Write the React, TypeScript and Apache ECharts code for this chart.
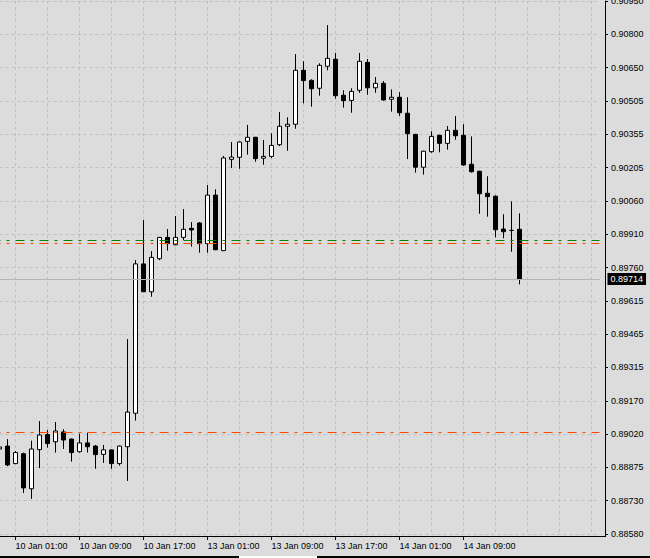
import React, { useEffect, useRef } from 'react';
import * as echarts from 'echarts';

// Hourly categories (market closed over the weekend between 10 Jan and 13 Jan)
const daySegments: [string, number, number][] = [
  ['9 Jan', 23, 23],
  ['10 Jan', 0, 23],
  ['13 Jan', 0, 23],
  ['14 Jan', 0, 23],
  ['15 Jan', 0, 2],
];
const categories: string[] = [];
for (const [d, a, b] of daySegments) {
  for (let h = a; h <= b; h++) categories.push(`${d} ${String(h).padStart(2, '0')}:00`);
}

const opens = [
  0.88958, 0.88971, 0.88893, 0.88937, 0.88781, 0.88955, 0.89022, 0.88990, 0.89034, 0.89002,
  0.88946, 0.88985, 0.88971, 0.88934, 0.88954, 0.88893, 0.88968, 0.89117, 0.89781, 0.89657,
  0.89804, 0.89899, 0.89866, 0.89899, 0.89939, 0.89963, 0.89871, 0.90087, 0.89840, 0.90246,
  0.90255, 0.90326, 0.90344, 0.90251, 0.90259, 0.90311, 0.90393, 0.90402, 0.90642, 0.90597,
  0.90562, 0.90660, 0.90691, 0.90531, 0.90508, 0.90553, 0.90677, 0.90564, 0.90584, 0.90513,
  0.90522, 0.90451, 0.90357, 0.90211, 0.90280, 0.90353, 0.90317, 0.90375, 0.90353, 0.90224,
  0.90193, 0.90095, 0.90082, 0.89936, 0.89930, 0.89935,
];
const closes = [
  0.88967, 0.88887, 0.88942, 0.88785, 0.88958, 0.89020, 0.88982, 0.89038, 0.88998, 0.88942,
  0.88985, 0.88968, 0.88933, 0.88954, 0.88893, 0.88971, 0.89122, 0.89781, 0.89657, 0.89810,
  0.89899, 0.89871, 0.89899, 0.89935, 0.89932, 0.89871, 0.90087, 0.89844, 0.90252, 0.90256,
  0.90323, 0.90344, 0.90249, 0.90259, 0.90308, 0.90393, 0.90402, 0.90642, 0.90596, 0.90560,
  0.90664, 0.90695, 0.90529, 0.90507, 0.90548, 0.90682, 0.90564, 0.90584, 0.90510, 0.90522,
  0.90453, 0.90360, 0.90211, 0.90282, 0.90348, 0.90317, 0.90375, 0.90351, 0.90221, 0.90191,
  0.90093, 0.90080, 0.89933, 0.89924, 0.89930, 0.89714,
];
const lows = [
  0.88949, 0.88882, 0.88891, 0.88762, 0.88736, 0.88873, 0.88964, 0.88942, 0.88958, 0.88902,
  0.88942, 0.88942, 0.88870, 0.88896, 0.88870, 0.88884, 0.88816, 0.89084, 0.89656, 0.89635,
  0.89798, 0.89840, 0.89864, 0.89887, 0.89858, 0.89831, 0.89831, 0.89842, 0.89838, 0.90207,
  0.90204, 0.90267, 0.90235, 0.90222, 0.90251, 0.90305, 0.90284, 0.90382, 0.90495, 0.90480,
  0.90529, 0.90642, 0.90516, 0.90476, 0.90453, 0.90542, 0.90533, 0.90542, 0.90507, 0.90458,
  0.90439, 0.90247, 0.90187, 0.90178, 0.90275, 0.90277, 0.90289, 0.90333, 0.90217, 0.90187,
  0.90004, 0.89991, 0.89899, 0.89895, 0.89835, 0.89690,
];
const highs = [
  0.88976, 0.89002, 0.88949, 0.88942, 0.88995, 0.89082, 0.89042, 0.89078, 0.89046, 0.89005,
  0.89026, 0.89030, 0.88976, 0.88976, 0.88956, 0.88973, 0.89447, 0.89798, 0.89976, 0.89838,
  0.89901, 0.89936, 0.89994, 0.90025, 0.89967, 0.89967, 0.90132, 0.90113, 0.90261, 0.90323,
  0.90325, 0.90399, 0.90346, 0.90332, 0.90362, 0.90456, 0.90433, 0.90714, 0.90682, 0.90602,
  0.90673, 0.90843, 0.90719, 0.90553, 0.90562, 0.90719, 0.90692, 0.90612, 0.90594, 0.90557,
  0.90545, 0.90522, 0.90359, 0.90284, 0.90371, 0.90355, 0.90394, 0.90439, 0.90402, 0.90348,
  0.90195, 0.90171, 0.90086, 0.90002, 0.90059, 0.90006,
];

const yTickLabels = [
  '0.88580', '0.88730', '0.88875', '0.89020', '0.89170', '0.89315', '0.89465', '0.89615', '0.89760',
  '0.89910', '0.90060', '0.90205', '0.90355', '0.90505', '0.90650', '0.90800', '0.90950',
];
const yMin = 0.8858;
const yMax = 0.9095;
const yInterval = (yMax - yMin) / (yTickLabels.length - 1);

const levelGreen = 0.89886;
const levelOrangeUpper = 0.89873;
const levelOrangeLower = 0.89031;

const FONT = "'Liberation Sans', Arial, sans-serif";

export default function App() {
  const ref = useRef<HTMLDivElement>(null);
  useEffect(() => {
    const chart = echarts.init(ref.current!, null, { renderer: 'svg' });
    const candles = opens.map((o, i) => [o, closes[i], lows[i], highs[i]]);
    const n = candles.length;
    const lastClose = closes[n - 1];
    const labelInterval = (index: number, value: string) =>
      index < n && /\s(01|09|17):00$/.test(value);
    const dashDot = (color: string) => ({ color, width: 1, type: [9, 6, 3, 6], dashOffset: 8 });
    chart.setOption({
      animation: false,
      backgroundColor: '#dcdcdc',
      grid: { left: -0.5, top: 1, width: 600, height: 533, outerBoundsMode: 'none', containLabel: false },
      xAxis: {
        type: 'category',
        data: categories,
        boundaryGap: false,
        offset: 2,
        axisLine: { show: true, lineStyle: { color: '#000', width: 1 } },
        axisTick: { show: true, interval: labelInterval, length: 4, lineStyle: { color: '#000' } },
        axisLabel: {
          interval: labelInterval,
          align: 'left',
          margin: 5,
          fontSize: 9,
          color: '#000',
          fontFamily: FONT,
        },
        splitLine: {
          show: true,
          interval: (i: number) => i % 4 === 2,
          lineStyle: { color: '#c0c0c0', type: [3, 3], width: 1 },
        },
      },
      yAxis: {
        type: 'value',
        position: 'right',
        min: yMin,
        max: yMax,
        interval: yInterval,
        offset: 5.5,
        axisLine: { show: true, lineStyle: { color: '#000', width: 1 } },
        axisTick: { show: true, length: 3, lineStyle: { color: '#000' } },
        axisLabel: {
          margin: 6,
          fontSize: 9,
          color: '#000',
          fontFamily: FONT,
          verticalAlign: 'middle',
          verticalAlignMaxLabel: 'middle',
          verticalAlignMinLabel: 'middle',
          formatter: (v: number) => yTickLabels[Math.round((v - yMin) / yInterval)] ?? '',
        },
        splitLine: { show: true, lineStyle: { color: '#c0c0c0', type: [3, 3], width: 1 } },
      },
      series: [
        {
          type: 'line',
          data: [],
          z: 1,
          silent: true,
          markLine: {
            silent: true,
            symbol: 'none',
            precision: 5,
            animation: false,
            data: [
              { yAxis: lastClose, lineStyle: { color: '#b4b4b4', type: 'solid', width: 1 },
                label: {
                  show: true,
                  position: 'end',
                  distance: 8,
                  formatter: () => lastClose.toFixed(5),
                  backgroundColor: '#000',
                  color: '#fff',
                  padding: [1, 3, 1, 3],
                  fontSize: 9,
                  lineHeight: 10,
                  fontFamily: FONT,
                } },
              { yAxis: levelGreen, lineStyle: dashDot('#008000'), label: { show: false } },
              { yAxis: levelOrangeUpper, lineStyle: dashDot('#ff4500'), label: { show: false } },
              { yAxis: levelOrangeLower, lineStyle: dashDot('#ff4500'), label: { show: false } },
            ],
          },
        },
        {
          type: 'candlestick',
          data: candles,
          barWidth: 4,
          z: 3,
          itemStyle: {
            color: '#ffffff',
            color0: '#000000',
            borderColor: '#000000',
            borderColor0: '#000000',
            borderColorDoji: '#000000',
            borderWidth: 1,
          },
        },
      ],
      graphic: [
        { type: 'line', shape: { x1: 599, y1: 536.5, x2: 605.5, y2: 536.5 }, style: { stroke: '#000', lineWidth: 1 } },
        { type: 'line', shape: { x1: 605.5, y1: 533, x2: 605.5, y2: 537 }, style: { stroke: '#000', lineWidth: 1 } },
        { type: 'rect', shape: { x: 0, y: 556, width: 650, height: 2 }, style: { fill: '#000' } },
        { type: 'rect', shape: { x: 239, y: 556, width: 78, height: 2 }, style: { fill: '#fff' } },
      ],
    });
    return () => chart.dispose();
  }, []);
  return <div ref={ref} style={{ position: 'fixed', left: 0, top: 0, width: 650, height: 558 }} />;
}
